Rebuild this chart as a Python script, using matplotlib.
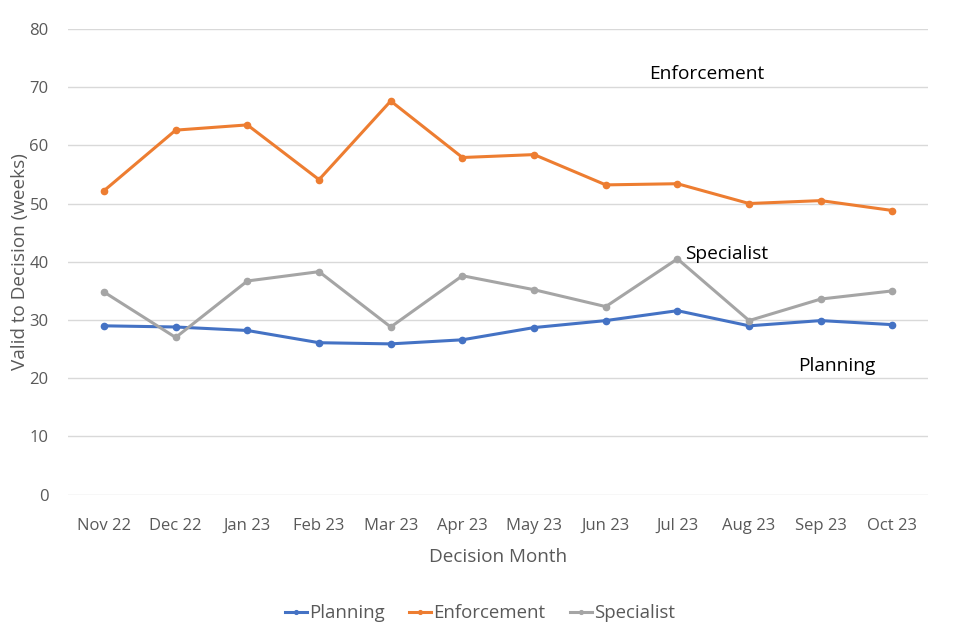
import matplotlib.pyplot as plt

plt.rcParams['font.family'] = ['Open Sans', 'DejaVu Sans']

months = ["Nov 22", "Dec 22", "Jan 23", "Feb 23", "Mar 23", "Apr 23",
          "May 23", "Jun 23", "Jul 23", "Aug 23", "Sep 23", "Oct 23"]
planning = [29.0, 28.8, 28.2, 26.1, 25.9, 26.6, 28.7, 29.9, 31.6, 29.0, 29.9, 29.2]
enforcement = [52.2, 62.6, 63.5, 54.1, 67.6, 57.9, 58.4, 53.2, 53.4, 50.0, 50.5, 48.8]
specialist = [34.8, 27.0, 36.7, 38.3, 28.8, 37.6, 35.2, 32.3, 40.5, 29.9, 33.6, 35.0]

grey = "#595959"

fig = plt.figure(figsize=(9.6, 6.4), dpi=100)
ax = fig.add_axes([0.071, 0.227, 0.896, 0.728])

x = range(len(months))
ax.plot(x, planning, color="#4472c4", lw=2.2, marker="o", ms=4.5, label="Planning")
ax.plot(x, enforcement, color="#ed7d31", lw=2.2, marker="o", ms=4.5, label="Enforcement")
ax.plot(x, specialist, color="#a5a5a5", lw=2.2, marker="o", ms=4.5, label="Specialist")

ax.set_xlim(-0.5, len(months) - 0.5)
ax.set_ylim(0, 80)
ax.set_yticks(range(0, 81, 10))
ax.set_xticks(list(x))
ax.set_xticklabels(months)
ax.tick_params(length=0, labelsize=12, labelcolor=grey)
ax.tick_params(axis="x", pad=17)
ax.tick_params(axis="y", pad=14)
ax.grid(axis="y", color="#d9d9d9", lw=1)
ax.set_axisbelow(True)
for s in ax.spines.values():
    s.set_visible(False)

ax.set_xlabel("Decision Month", fontsize=13.6, color=grey, labelpad=10)
ax.set_ylabel("Valid to Decision (weeks)", fontsize=13.6, color=grey, labelpad=0)

ax.text(7.61, 72.3, "Enforcement", fontsize=13.8, color="black", va="center")
ax.text(8.11, 41.4, "Specialist", fontsize=13.8, color="black", va="center")
ax.text(9.68, 22.1, "Planning", fontsize=13.8, color="black", va="center")

leg = fig.legend(loc="center", bbox_to_anchor=(0.5, 0.042), ncol=3, frameon=False,
                 fontsize=13.4, handlelength=1.2, handletextpad=0.1, columnspacing=1.3,
                 markerscale=0.6)
for t in leg.get_texts():
    t.set_color(grey)

fig.savefig("out.png", dpi=100)
